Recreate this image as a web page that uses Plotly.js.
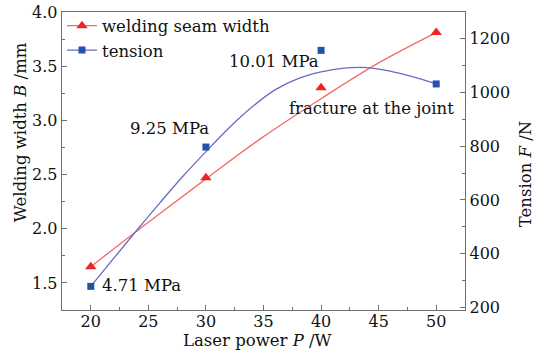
<!DOCTYPE html>
<html>
<head>
<meta charset="utf-8">
<script src="https://cdn.plot.ly/plotly-3.0.1.min.js"></script>
<style>html,body{margin:0;padding:0;background:#fff;}#chart{width:534px;height:356px;}</style>
</head>
<body>
<div id="chart"></div>
<script>
// Laser power (W)
const power = [20, 30, 40, 50];
// Welding seam width B (mm)
const seamWidth = [1.65, 2.47, 3.30, 3.81];
// Tension F (N)
const tension = [278, 797, 1157, 1032];
// Smoothed fit curves
const widthCurveX = [20, 25, 30, 35, 40, 45, 50];
const widthCurveY = [1.65, 2.06, 2.46, 2.85, 3.20, 3.53, 3.81];
const tensionCurveX = [20, 22, 24, 26, 28, 30, 32, 34, 36, 38, 40, 42, 44, 46, 48, 50];
const tensionCurveY = [278, 383, 487, 589, 688, 780, 868, 946, 1010, 1052, 1077, 1091, 1093, 1080, 1058, 1032];
// Point labels
const labelText = ["4.71 MPa", "9.25 MPa", "10.01 MPa", "fracture at the joint"];
const labelX = [24.39, 26.86, 35.95, 44.38];
const labelY = [1.472, 2.926, 3.546, 3.111];

const FONT = "DejaVu Serif, serif";
const RED_LINE = "#f46a6a", RED_MK = "#ee2424";
const BLUE_LINE = "#6a6ac4", BLUE_MK = "#2352a8";

const traces = [
  {x: widthCurveX, y: widthCurveY, mode: "lines", line: {color: RED_LINE, width: 1.3, shape: "spline"}, showlegend: false, hoverinfo: "skip"},
  {x: tensionCurveX, y: tensionCurveY, yaxis: "y2", mode: "lines", line: {color: BLUE_LINE, width: 1.3, shape: "spline"}, showlegend: false, hoverinfo: "skip"},
  {x: power, y: seamWidth, mode: "markers", marker: {symbol: "triangle-up", size: 10, color: RED_MK}, showlegend: false},
  {x: power, y: tension, yaxis: "y2", mode: "markers", marker: {symbol: "square", size: 7, color: BLUE_MK}, showlegend: false},
  {x: [null], y: [null], name: "welding seam width", mode: "lines+markers", line: {color: RED_LINE, width: 1.3}, marker: {symbol: "triangle-up", size: 10, color: RED_MK}},
  {x: [null], y: [null], name: "tension", mode: "lines+markers", line: {color: BLUE_LINE, width: 1.3}, marker: {symbol: "square", size: 7, color: BLUE_MK}}
];

const axisCommon = {
  showline: true, linecolor: "#707070", linewidth: 1.3,
  ticks: "inside", ticklen: 5, tickcolor: "#707070", tickwidth: 1,
  showgrid: false, zeroline: false,
  tickfont: {family: FONT, size: 16, color: "#111"}
};

const annotations = labelText.map((t, i) => ({
  x: labelX[i], y: labelY[i], xref: "x", yref: "y", text: t, showarrow: false,
  xanchor: "center", yanchor: "middle", font: {family: FONT, size: 16.5, color: "#111"}
}));
annotations.push(
  {x: -0.104, y: 0.597, xref: "paper", yref: "paper", text: "Welding width <i>B</i> /mm", textangle: -90, showarrow: false, xanchor: "center", yanchor: "middle", font: {family: FONT, size: 16.5, color: "#111"}},
  {x: 1.149, y: 0.456, xref: "paper", yref: "paper", text: "Tension <i>F</i> /N", textangle: -90, showarrow: false, xanchor: "center", yanchor: "middle", font: {family: FONT, size: 16.5, color: "#111"}},
  {x: 0.486, y: -0.102, xref: "paper", yref: "paper", text: "Laser power <i>P</i> /W", showarrow: false, xanchor: "center", yanchor: "middle", font: {family: FONT, size: 16.5, color: "#111"}}
);

const layout = {
  width: 534, height: 356,
  margin: {l: 62, r: 69, t: 12, b: 46, autoexpand: false},
  paper_bgcolor: "#fff", plot_bgcolor: "#fff",
  font: {family: FONT, size: 16, color: "#111"},
  xaxis: Object.assign({}, axisCommon, {range: [17.5, 52.5], dtick: 5, tick0: 20, mirror: true, ticklabelstandoff: -4,
    minor: {ticks: "inside", ticklen: 3, dtick: 2.5, tick0: 17.5, tickcolor: "#707070"}}),
  yaxis: Object.assign({}, axisCommon, {range: [1.25, 4.0], dtick: 0.5, tick0: 1.5, tickformat: ".1f",
    minor: {ticks: "inside", ticklen: 3, dtick: 0.25, tick0: 1.25, tickcolor: "#707070"}}),
  yaxis2: Object.assign({}, axisCommon, {overlaying: "y", side: "right", range: [190, 1300], dtick: 200, tick0: 200,
    minor: {ticks: "inside", ticklen: 3, dtick: 100, tick0: 100, tickcolor: "#707070"}}),
  legend: {x: 0.0, y: 1.012, xanchor: "left", yanchor: "top", bgcolor: "rgba(0,0,0,0)",
    font: {family: FONT, size: 16.5, color: "#111"}, tracegroupgap: 0, itemwidth: 30},
  annotations: annotations,
  showlegend: true
};

Plotly.newPlot("chart", traces, layout, {displayModeBar: false, staticPlot: true});
</script>
</body>
</html>
